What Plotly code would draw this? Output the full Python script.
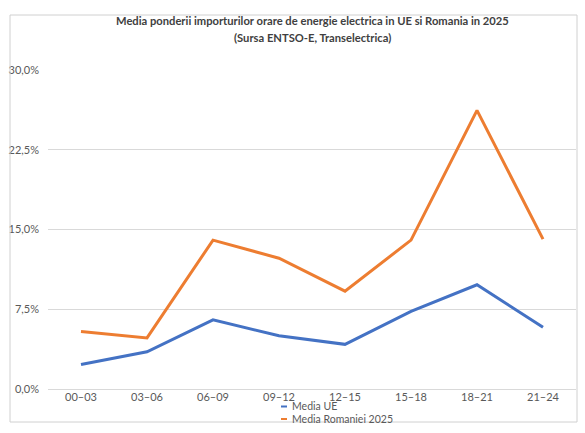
import plotly.graph_objects as go

categories = ["00–03", "03–06", "06–09", "09–12", "12–15", "15–18", "18–21", "21–24"]
media_ue = [2.3, 3.5, 6.5, 5.0, 4.2, 7.3, 9.8, 5.8]
media_ro = [5.4, 4.8, 14.0, 12.3, 9.2, 14.0, 26.2, 14.1]
series_names = ["Media UE", "Media Romaniei 2025"]
colors = ["#4472C4", "#ED7D31"]
y_ticks = [0, 0.075, 0.15, 0.225, 0.30]
title_lines = ["Media ponderii importurilor orare de energie electrica in UE si Romania in 2025",
               "(Sursa ENTSO-E, Transelectrica)"]

W, H = 585, 433
L, R, T, B = 48, 576, 70, 389

def px(x):
    return (x - L) / (R - L)

def py(y):
    return (B - y) / (B - T)

fig = go.Figure()
for name, vals, c in zip(series_names, [media_ue, media_ro], colors):
    fig.add_trace(go.Scatter(
        x=categories, y=[v / 100 for v in vals], mode="lines", name=name,
        line=dict(color=c, width=3), showlegend=False,
    ))

font = "Lato, 'Open Sans', sans-serif"

shapes = [dict(type="rect", xref="paper", yref="paper",
               x0=px(10), x1=px(577), y0=py(422), y1=py(15),
               line=dict(color="#D0D0D0", width=1), layer="above")]
annotations = []
for text, yy in zip(title_lines, [21, 38]):
    annotations.append(dict(text="<b>" + text + "</b>", xref="paper", yref="paper",
                            x=0.5, y=py(yy), xanchor="center", yanchor="middle",
                            showarrow=False, font=dict(size=11.2, color="#404040", family=font)))
for i, (name, c) in enumerate(zip(series_names, colors)):
    yy = 406.5 + 12.5 * i
    shapes.append(dict(type="line", xref="paper", yref="paper",
                       x0=px(281), x1=px(287), y0=py(yy), y1=py(yy),
                       line=dict(color=c, width=2)))
    annotations.append(dict(text=name, xref="paper", yref="paper",
                            x=px(290), y=py(yy), xanchor="left", yanchor="middle",
                            showarrow=False, font=dict(size=10.5, color="#595959", family=font)))

fig.update_layout(
    width=W, height=H,
    margin=dict(l=L, r=W - R, t=T, b=H - B),
    paper_bgcolor="white", plot_bgcolor="white",
    separators=", ",
    font=dict(family=font, color="#595959", size=11),
    xaxis=dict(showgrid=False, showline=False, ticks="", tickfont=dict(size=11, color="#595959"),
               zeroline=False, range=[-0.5, len(categories) - 0.5]),
    yaxis=dict(range=[0, 0.30], tickvals=y_ticks, tickformat=".1%",
               showgrid=True, gridcolor="#D9D9D9", gridwidth=1,
               zeroline=True, zerolinecolor="#D9D9D9", zerolinewidth=1,
               showline=False, ticks="", ticklabelstandoff=8,
               tickfont=dict(size=11, color="#595959")),
    shapes=shapes,
    annotations=annotations,
)

fig.write_html("out.html")
